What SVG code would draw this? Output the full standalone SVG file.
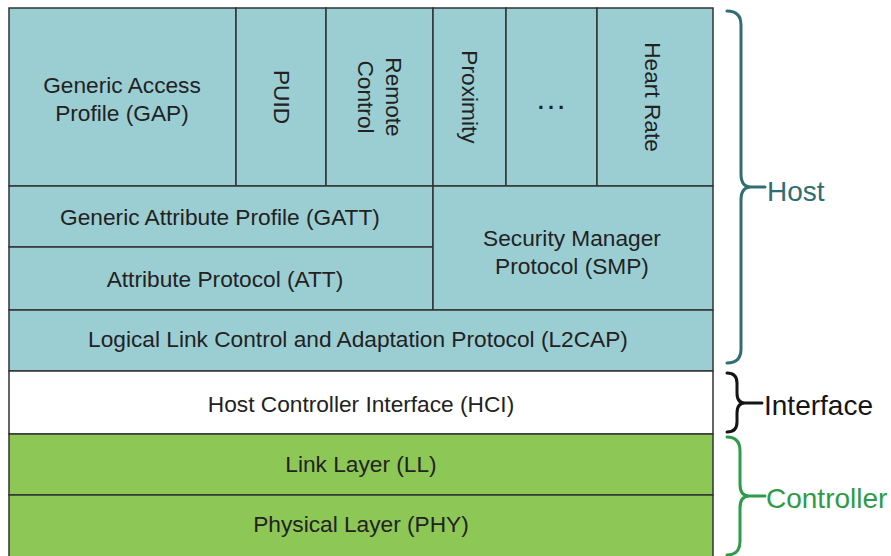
<svg xmlns="http://www.w3.org/2000/svg" width="891" height="556" viewBox="0 0 891 556">
  <style>
    .host { fill: #9bced3; stroke: #333; stroke-width: 1.5; }
    .hci { fill: #ffffff; stroke: #333; stroke-width: 1.5; }
    .ctrl { fill: #8dc756; stroke: #333; stroke-width: 1.5; }
    .lbl { font-family: "Liberation Sans", Arial, sans-serif; font-size: 22.7px; fill: #222; text-anchor: middle; }
    .brace { fill: none; stroke-width: 3; stroke-linecap: round; stroke-linejoin: round; }
    .side { font-family: "Liberation Sans", Arial, sans-serif; font-size: 28px; }
  </style>

  <rect x="0" y="0" width="891" height="556" fill="#ffffff"/>

  <!-- Host: profiles row -->
  <g id="gap">
    <rect class="host" x="9" y="8" width="227" height="178"/>
    <text class="lbl" x="122" y="93">Generic Access</text>
    <text class="lbl" x="122" y="121">Profile (GAP)</text>
  </g>
  <g id="puid">
    <rect class="host" x="236" y="8" width="90" height="178"/>
    <text class="lbl" transform="translate(274 97) rotate(90)">PUID</text>
  </g>
  <g id="remote-control">
    <rect class="host" x="326" y="8" width="107" height="178"/>
    <text class="lbl" transform="translate(386 97) rotate(90)">Remote</text>
    <text class="lbl" transform="translate(358 97) rotate(90)">Control</text>
  </g>
  <g id="proximity">
    <rect class="host" x="433" y="8" width="73" height="178"/>
    <text class="lbl" transform="translate(462 97) rotate(90)">Proximity</text>
  </g>
  <g id="more-profiles">
    <rect class="host" x="506" y="8" width="91" height="178"/>
    <text class="lbl" x="551" y="109" style="font-size:32px">…</text>
  </g>
  <g id="heart-rate">
    <rect class="host" x="597" y="8" width="116" height="178"/>
    <text class="lbl" transform="translate(645 97) rotate(90)">Heart Rate</text>
  </g>

  <!-- Host: attribute / security layers -->
  <g id="gatt">
    <rect class="host" x="9" y="186" width="424" height="61"/>
    <text class="lbl" x="220" y="225">Generic Attribute Profile (GATT)</text>
  </g>
  <g id="att">
    <rect class="host" x="9" y="247" width="424" height="63"/>
    <text class="lbl" x="225" y="287">Attribute Protocol (ATT)</text>
  </g>
  <g id="smp">
    <rect class="host" x="433" y="186" width="280" height="124"/>
    <text class="lbl" x="572" y="246">Security Manager</text>
    <text class="lbl" x="572" y="274">Protocol (SMP)</text>
  </g>
  <g id="l2cap">
    <rect class="host" x="9" y="310" width="704" height="61"/>
    <text class="lbl" x="358" y="347">Logical Link Control and Adaptation Protocol (L2CAP)</text>
  </g>

  <!-- Interface -->
  <g id="hci">
    <rect class="hci" x="9" y="371" width="704" height="63"/>
    <text class="lbl" x="361" y="412">Host Controller Interface (HCI)</text>
  </g>

  <!-- Controller -->
  <g id="ll">
    <rect class="ctrl" x="9" y="434" width="704" height="61"/>
    <text class="lbl" x="361" y="472">Link Layer (LL)</text>
  </g>
  <g id="phy">
    <rect class="ctrl" x="9" y="495" width="704" height="70"/>
    <text class="lbl" x="361" y="532">Physical Layer (PHY)</text>
  </g>

  <!-- Grouping braces -->
  <g id="braces">
    <path class="brace" stroke="#2f6e72" d="M727 11 Q741 11 741 25 L741 174 Q741 187 751 187 L765 187 M751 187 Q741 187 741 200 L741 349 Q741 363 727 363"/>
    <path class="brace" stroke="#151515" d="M727 373 Q737 373 737 383 L737 393 Q737 403 745 403 L762 403 M745 403 Q737 403 737 413 L737 422 Q737 432 727 432"/>
    <path class="brace" stroke="#2e9b48" d="M727 437 Q740 437 740 451 L740 484 Q740 496 749 496 L765 496 M749 496 Q740 496 740 508 L740 541 Q740 555 727 555"/>
  </g>

  <g id="labels">
    <text class="side" x="767" y="201" fill="#2f6e72">Host</text>
    <text class="side" x="764" y="415" fill="#151515">Interface</text>
    <text class="side" x="766" y="508" fill="#2e9b48">Controller</text>
  </g>
</svg>
